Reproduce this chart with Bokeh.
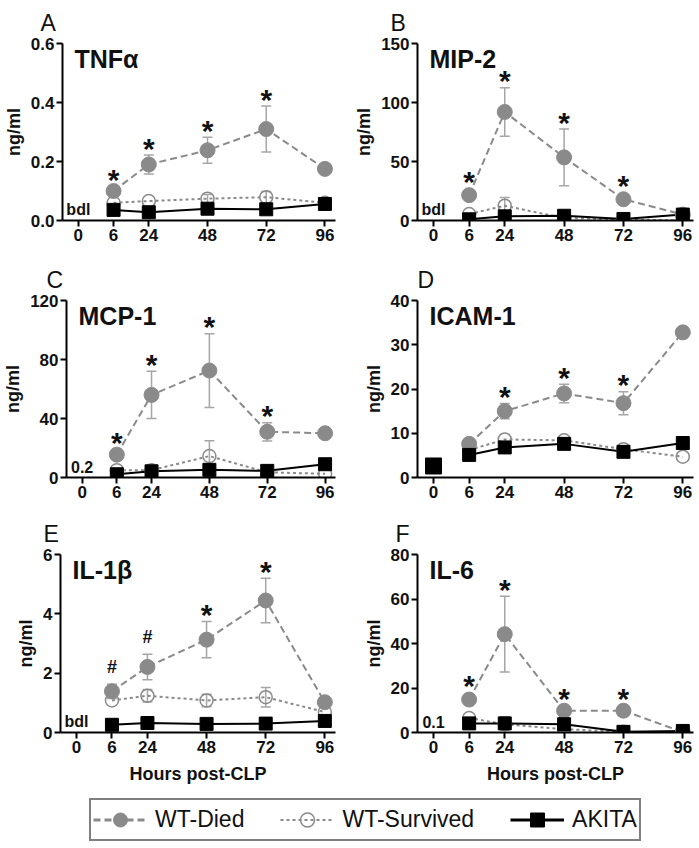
import numpy as np
from bokeh.plotting import figure
from bokeh.models import (ColumnDataSource, Range1d, FixedTicker, Whisker, TeeHead, Label,
                          Legend, LegendItem, NumeralTickFormatter, CustomJSTickFormatter)
from bokeh.layouts import column, row
from bokeh.embed import file_html
from bokeh.resources import INLINE
from bokeh.core.properties import value

# ---------------- data ----------------
hours = [6, 24, 48, 72, 96]
tick_hours = [0, 6, 24, 48, 72, 96]
axis_pos = [0.0, 0.6, 1.2, 2.2, 3.2, 4.2]   # broken time axis (0-6-24 compressed)

letters = ["A", "B", "C", "D", "E", "F"]
names = ["TNFα", "MIP-2", "MCP-1", "ICAM-1", "IL-1β", "IL-6"]
y_max = [0.6, 150, 120, 40, 6, 80]
y_ticks = [[0, 0.2, 0.4, 0.6], [0, 50, 100, 150], [0, 40, 80, 120],
           [0, 10, 20, 30, 40], [0, 2, 4, 6], [0, 20, 40, 60, 80]]
baseline_text = ["bdl", "bdl", "0.2", "", "bdl", "0.1"]

tnf_died = [0.10, 0.19, 0.238, 0.31, 0.175]
tnf_died_sem = [0.016, 0.032, 0.044, 0.078, None]
tnf_surv = [0.060, 0.066, 0.074, 0.079, 0.060]
tnf_surv_sem = [None, None, 0.014, 0.019, None]
tnf_akita = [0.036, 0.028, 0.040, 0.038, 0.056]
tnf_akita_sem = [None, None, None, None, None]
tnf_marks = ["*", "*", "*", "*", ""]

mip_died = [21.5, 92.0, 53.5, 18.0, 5.0]
mip_died_sem = [None, 20.5, 24.0, None, None]
mip_surv = [5.5, 12.5, 2.0, 1.0, 0.0]
mip_surv_sem = [None, 7.0, None, None, None]
mip_akita = [1.0, 3.5, 4.0, 1.3, 5.0]
mip_akita_sem = [None, None, None, None, None]
mip_marks = ["*", "*", "*", "*", ""]

mcp_died = [15.5, 56.0, 72.5, 31.0, 30.0]
mcp_died_sem = [3.7, 16.0, 25.0, 6.2, None]
mcp_surv = [5.0, 5.0, 14.5, 3.5, 2.5]
mcp_surv_sem = [None, None, 10.5, None, None]
mcp_akita = [2.2, 4.2, 5.2, 4.5, 9.0]
mcp_akita_sem = [None, None, None, None, None]
mcp_marks = ["*", "*", "*", "*", ""]

icam_died = [7.6, 15.0, 19.0, 16.8, 32.8]
icam_died_sem = [None, 1.7, 2.1, 2.6, None]
icam_surv = [6.2, 8.6, 8.4, 6.4, 4.7]
icam_surv_sem = [None, None, None, None, None]
icam_akita = [5.1, 6.8, 7.6, 5.8, 7.8]
icam_akita_sem = [None, None, None, None, None]
icam_marks = ["", "*", "*", "*", ""]
icam_baseline_hours = [0]
icam_baseline = [2.6]

il1_died = [1.39, 2.21, 3.13, 4.45, 1.02]
il1_died_sem = [0.24, 0.43, 0.61, 0.75, None]
il1_surv = [1.08, 1.24, 1.08, 1.19, 0.69]
il1_surv_sem = [None, 0.21, 0.21, 0.33, None]
il1_akita = [0.26, 0.32, 0.29, 0.30, 0.39]
il1_akita_sem = [None, None, None, None, None]
il1_marks = ["#", "#", "*", "*", ""]

il6_died = [14.8, 44.2, 9.8, 9.8, 0.2]
il6_died_sem = [None, 17.0, 2.3, 2.5, None]
il6_surv = [6.5, 3.7, 1.5, 0.3, 0.0]
il6_surv_sem = [None, None, None, None, None]
il6_akita = [4.1, 4.1, 3.7, 0.3, 0.7]
il6_akita_sem = [None, 2.8, 2.8, None, None]
il6_marks = ["*", "*", "*", "*", ""]

panels = [
    (tnf_died, tnf_died_sem, tnf_surv, tnf_surv_sem, tnf_akita, tnf_akita_sem, tnf_marks),
    (mip_died, mip_died_sem, mip_surv, mip_surv_sem, mip_akita, mip_akita_sem, mip_marks),
    (mcp_died, mcp_died_sem, mcp_surv, mcp_surv_sem, mcp_akita, mcp_akita_sem, mcp_marks),
    (icam_died, icam_died_sem, icam_surv, icam_surv_sem, icam_akita, icam_akita_sem, icam_marks),
    (il1_died, il1_died_sem, il1_surv, il1_surv_sem, il1_akita, il1_akita_sem, il1_marks),
    (il6_died, il6_died_sem, il6_surv, il6_surv_sem, il6_akita, il6_akita_sem, il6_marks),
]

# ---------------- style ----------------
FONT = "Liberation Sans"
GRAY = "#8a8a8a"
ERR_GRAY = "#a6a6a6"
X_START, X_END = -0.27, 4.38
letter_dx = [-22, -27, -20, 0, -17, -22]

col_borders = [(60, 275, 10), (72, 276, 6)]                      # (left, frame, right)
row_borders = [(38, 182, 37), (41, 179, 34), (38, 183, 60)]      # (top, frame, bottom)


def xmap(h):
    return np.interp(h, tick_hours, axis_pos)


x_fmt = CustomJSTickFormatter(args=dict(pos=axis_pos, lab=[str(h) for h in tick_hours]), code="""
    for (let i = 0; i < pos.length; i++) { if (Math.abs(pos[i] - tick) < 1e-6) return lab[i]; }
    return '';
""")


def add_err(p, means, sems, color):
    xs, lo, hi = [], [], []
    for h, m, s in zip(hours, means, sems):
        if s is not None:
            xs.append(float(xmap(h)))
            lo.append(m - s)
            hi.append(m + s)
    if xs:
        src = ColumnDataSource(dict(x=xs, lo=lo, hi=hi))
        p.add_layout(Whisker(base="x", lower="lo", upper="hi", source=src,
                             line_color=color, line_width=1.5,
                             lower_head=TeeHead(size=10, line_color=color, line_width=1.5),
                             upper_head=TeeHead(size=10, line_color=color, line_width=1.5)))


def make_panel(i):
    died, died_sem, surv, surv_sem, akita, akita_sem, marks = panels[i]
    r, c = divmod(i, 2)
    bl, fw, br = col_borders[c]
    bt, fh, bb = row_borders[r]
    p = figure(width=bl + fw + br, height=bt + fh + bb,
               x_range=Range1d(X_START, X_END), y_range=Range1d(0, y_max[i]),
               output_backend="svg", toolbar_location=None,
               min_border_left=bl, min_border_right=br, min_border_top=bt, min_border_bottom=bb)
    p.grid.visible = False
    p.outline_line_color = None
    p.background_fill_color = "white"
    p.border_fill_color = "white"

    p.title.text = letters[i]
    p.title.text_font = FONT
    p.title.text_font_style = "normal"
    p.title.text_font_size = "23px"
    p.title.text_color = "#111111"
    p.title.align = "left"
    p.title.offset = letter_dx[i]
    p.title.standoff = 15

    for ax in (p.xaxis[0], p.yaxis[0]):
        ax.axis_line_width = 2
        ax.axis_line_color = "black"
        ax.major_tick_line_width = 2
        ax.major_tick_line_color = "black"
        ax.major_tick_out = 6
        ax.major_tick_in = 0
        ax.minor_tick_line_color = None
        ax.major_label_text_font = FONT
        ax.major_label_text_font_style = "bold"
        ax.major_label_text_font_size = "17px"
        ax.major_label_text_color = "#111111"
        ax.major_label_standoff = 2
        ax.axis_label_text_font = FONT
        ax.axis_label_text_font_style = "bold"
        ax.axis_label_text_font_size = "18px"
        ax.axis_label_text_color = "#111111"

    p.xaxis.ticker = FixedTicker(ticks=axis_pos)
    p.xaxis.formatter = x_fmt
    p.yaxis.ticker = FixedTicker(ticks=y_ticks[i])
    p.yaxis.formatter = NumeralTickFormatter(format="0.0" if y_max[i] < 1 else "0")
    p.yaxis.axis_label = "ng/ml"
    p.yaxis.axis_label_standoff = 4
    if r == 2:
        p.xaxis.axis_label = "Hours post-CLP"
        p.xaxis.axis_label_standoff = 8

    xs = xmap(hours)

    add_err(p, died, died_sem, ERR_GRAY)
    add_err(p, surv, surv_sem, ERR_GRAY)
    add_err(p, akita, akita_sem, "#222222")

    p.line(xs, died, line_color=GRAY, line_width=2, line_dash="7 4")
    p.line(xs, surv, line_color=GRAY, line_width=2, line_dash="3 3")
    p.line(xs, akita, line_color="black", line_width=2)
    p.scatter(xs, died, marker="circle", size=15, fill_color=GRAY, line_color=GRAY)
    p.scatter(xs, surv, marker="circle", size=13, fill_alpha=0, line_color=GRAY, line_width=1.5)
    p.scatter(xs, akita, marker="square", size=13, fill_color="black", line_color="black")

    if i == 3:
        p.scatter(xmap(icam_baseline_hours), icam_baseline, marker="square", size=16,
                  fill_color="black", line_color="black")

    # significance marks
    mx, my, mt, moff, msz = [], [], [], [], []
    for h, m, s, t in zip(hours, died, died_sem, marks):
        if t:
            mx.append(float(xmap(h)))
            my.append(m + (s if s is not None else 0))
            mt.append(t)
            base = -7 if t == "*" else -17
            moff.append(base if s is not None else base - 7)
            msz.append("30px" if t == "*" else "18px")
    if mx:
        src = ColumnDataSource(dict(x=mx, y=my, t=mt, off=moff, sz=msz))
        p.text("x", "y", text="t", source=src, y_offset="off", text_font_size="sz",
               text_font=value(FONT), text_font_style="bold", text_align="center",
               text_baseline="alphabetic", text_color="#111111")

    if baseline_text[i]:
        p.text([0], [0], text=[baseline_text[i]], y_offset=-11, text_font=value(FONT),
               text_font_style="bold", text_font_size="16px", text_align="center",
               text_baseline="alphabetic", text_color="#111111")

    p.add_layout(Label(x=X_START, y=y_max[i], text=names[i], x_offset=12, y_offset=-1,
                       text_font=FONT, text_font_style="bold", text_font_size="25px",
                       text_baseline="top", text_color="#111111"))
    return p


figs = [make_panel(i) for i in range(6)]

# ---------------- legend ----------------
lf = figure(width=699, height=55, x_range=Range1d(0, 1), y_range=Range1d(0, 1),
            x_axis_type=None, y_axis_type=None, output_backend="svg", toolbar_location=None,
            min_border=0)
lf.grid.visible = False
lf.outline_line_color = None
key_src = ColumnDataSource(dict(x=[-5.0], y=[-5.0]))   # legend keys only, kept off-canvas
l1 = lf.line("x", "y", source=key_src, line_color=GRAY, line_width=3, line_dash="7 4")
m1 = lf.scatter("x", "y", source=key_src, marker="circle", size=14, fill_color=GRAY, line_color=GRAY)
l2 = lf.line("x", "y", source=key_src, line_color=GRAY, line_width=2, line_dash="3 3")
m2 = lf.scatter("x", "y", source=key_src, marker="circle", size=13, fill_alpha=0, line_color=GRAY,
                line_width=1.5)
l3 = lf.line("x", "y", source=key_src, line_color="black", line_width=3)
m3 = lf.scatter("x", "y", source=key_src, marker="square", size=13, fill_color="black",
                line_color="black")
legend = Legend(items=[LegendItem(label="WT-Died", renderers=[l1, m1]),
                       LegendItem(label="WT-Survived", renderers=[l2, m2]),
                       LegendItem(label="AKITA", renderers=[l3, m3])],
                location=(89, 6), orientation="horizontal",
                label_text_font=FONT, label_text_font_size="23px", label_text_color="#111111",
                glyph_width=54, glyph_height=35, label_standoff=8, spacing=36, padding=2,
                margin=0, border_line_color="black", border_line_width=2,
                background_fill_color="white", background_fill_alpha=1)
lf.add_layout(legend)

layout = column(row(figs[0], figs[1]), row(figs[2], figs[3]), row(figs[4], figs[5]), lf)

open("out.html", "w").write(file_html(layout, INLINE))
